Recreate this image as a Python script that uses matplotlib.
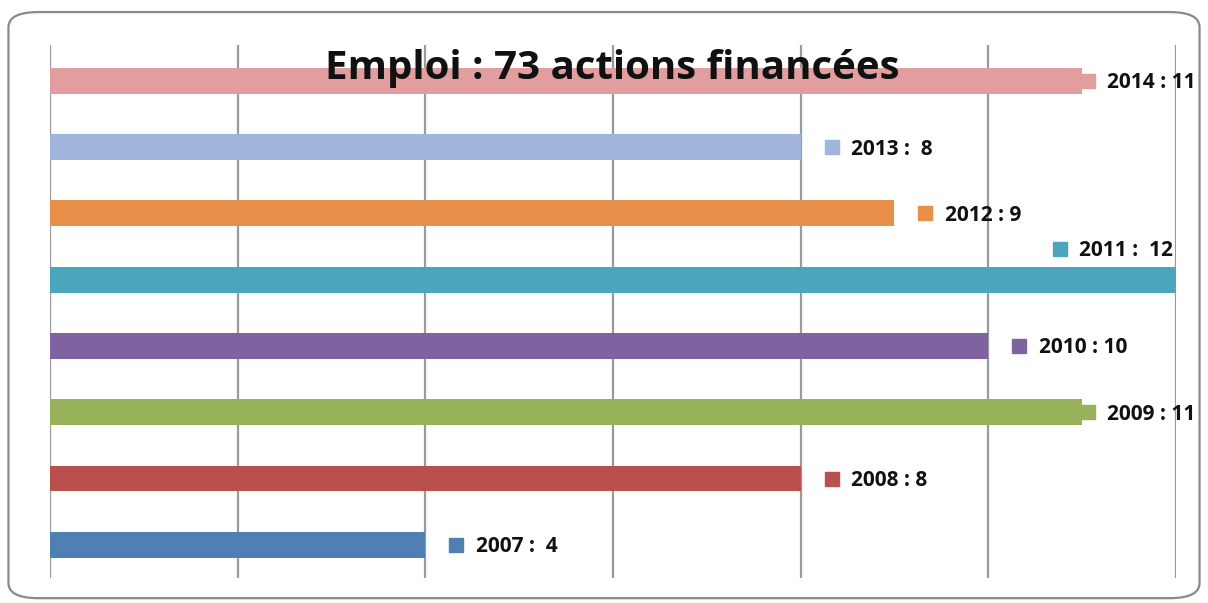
#!/usr/bin/env python3
"""
Horizontal bar chart: Emploi, actions financées per year (2007-2014).
"""
import matplotlib
matplotlib.use('Agg')
import matplotlib.pyplot as plt
from matplotlib.patches import FancyBboxPatch

TITLE = 'Emploi : 73 actions financées'
years = ['2007', '2008', '2009', '2010', '2011', '2012', '2013', '2014']
counts = [4, 8, 11, 10, 12, 9, 8, 11]
labels = ['2007 :  4', '2008 : 8', '2009 : 11', '2010 : 10',
          '2011 :  12', '2012 : 9', '2013 :  8', '2014 : 11']
colors = ['#4F7FB3', '#B8504C', '#97B25A', '#7F63A0',
          '#4BA5BC', '#E8904A', '#A0B4DC', '#E29E9E']

plt.rcParams['font.family'] = ['Open Sans', 'DejaVu Sans']

fig = plt.figure(figsize=(12.08, 6.03), dpi=100)
ax = fig.add_axes([0.0414, 0.0415, 0.9321, 0.8839])

pos = list(range(len(years)))
ax.barh(pos, counts, height=0.39, color=colors, zorder=2)

ax.set_xlim(0, 12)
ax.set_ylim(-0.5, 7.54)
ax.set_xticks(range(0, 13, 2))
ax.grid(axis='x', color='#9a9a9a', linewidth=1.6, zorder=0)
ax.tick_params(length=0, labelbottom=False, labelleft=False)
for s in ax.spines.values():
    s.set_visible(False)

# label placement: marker after bar end, a few get nudged to fit
for i, (v, lab, c) in enumerate(zip(counts, labels, colors)):
    dx, dy = 0.33, 0.0
    if v == 11:
        dx = 0.06
    elif v == 12:
        dx, dy = -1.24, 0.47
    ax.plot(v + dx, i + dy, marker='s', markersize=10, color=c,
            clip_on=False, zorder=3)
    ax.text(v + dx + 0.21, i + dy - 0.03, lab, fontsize=15, fontweight='bold',
            va='center', ha='left', color='#111111', clip_on=False, zorder=4)

fig.text(0.507, 1 - 68 / 603, TITLE, fontsize=29, fontweight='bold',
         ha='center', va='center', color='#111111', zorder=5)

border = FancyBboxPatch((0.007, 0.008), 0.986, 0.972,
                        boxstyle='round,pad=0,rounding_size=0.025',
                        transform=fig.transFigure, fill=False,
                        edgecolor='#8a8a8a', linewidth=1.6)
fig.patches.append(border)

fig.savefig('out.png', dpi=100)
